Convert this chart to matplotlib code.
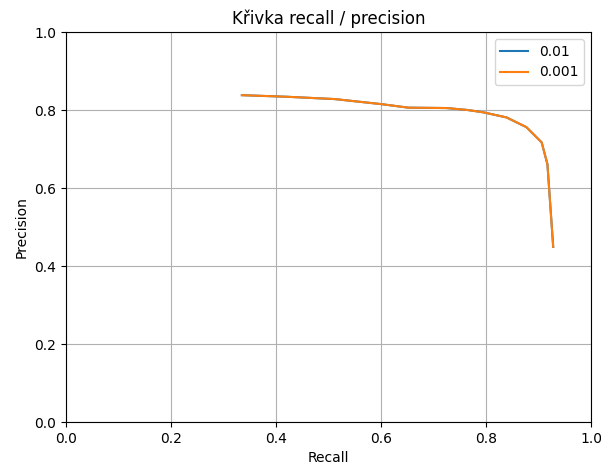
import numpy as np
import matplotlib
matplotlib.use("Agg")
import matplotlib.pyplot as plt

# recall / precision values (both runs overlap)
recall_01 = [0.335, 0.42, 0.512, 0.601, 0.652, 0.725, 0.765, 0.795, 0.839, 0.877, 0.906, 0.917, 0.928]
precision_01 = [0.838, 0.834, 0.828, 0.815, 0.806, 0.805, 0.800, 0.794, 0.781, 0.756, 0.717, 0.661, 0.449]
recall_001 = [0.335, 0.42, 0.512, 0.601, 0.652, 0.725, 0.765, 0.795, 0.839, 0.877, 0.906, 0.917, 0.928]
precision_001 = [0.838, 0.834, 0.828, 0.815, 0.806, 0.805, 0.800, 0.794, 0.781, 0.756, 0.717, 0.661, 0.449]
labels = ['0.01', '0.001']

fig = plt.figure(figsize=(6.01, 4.69), dpi=100)
ax = fig.add_subplot(111)
fig.subplots_adjust(left=66/601, right=591/601, top=1-32/469, bottom=1-422/469)

ax.plot(recall_01, precision_01, label=labels[0])
ax.plot(recall_001, precision_001, label=labels[1])
ax.set_xlim(0, 1)
ax.set_ylim(0, 1)
ax.grid(True)
ax.set_xlabel('Recall')
ax.set_ylabel('Precision')
ax.set_title('Křivka recall / precision')
ax.legend()

fig.savefig('out.png', dpi=100)
plt.close()
